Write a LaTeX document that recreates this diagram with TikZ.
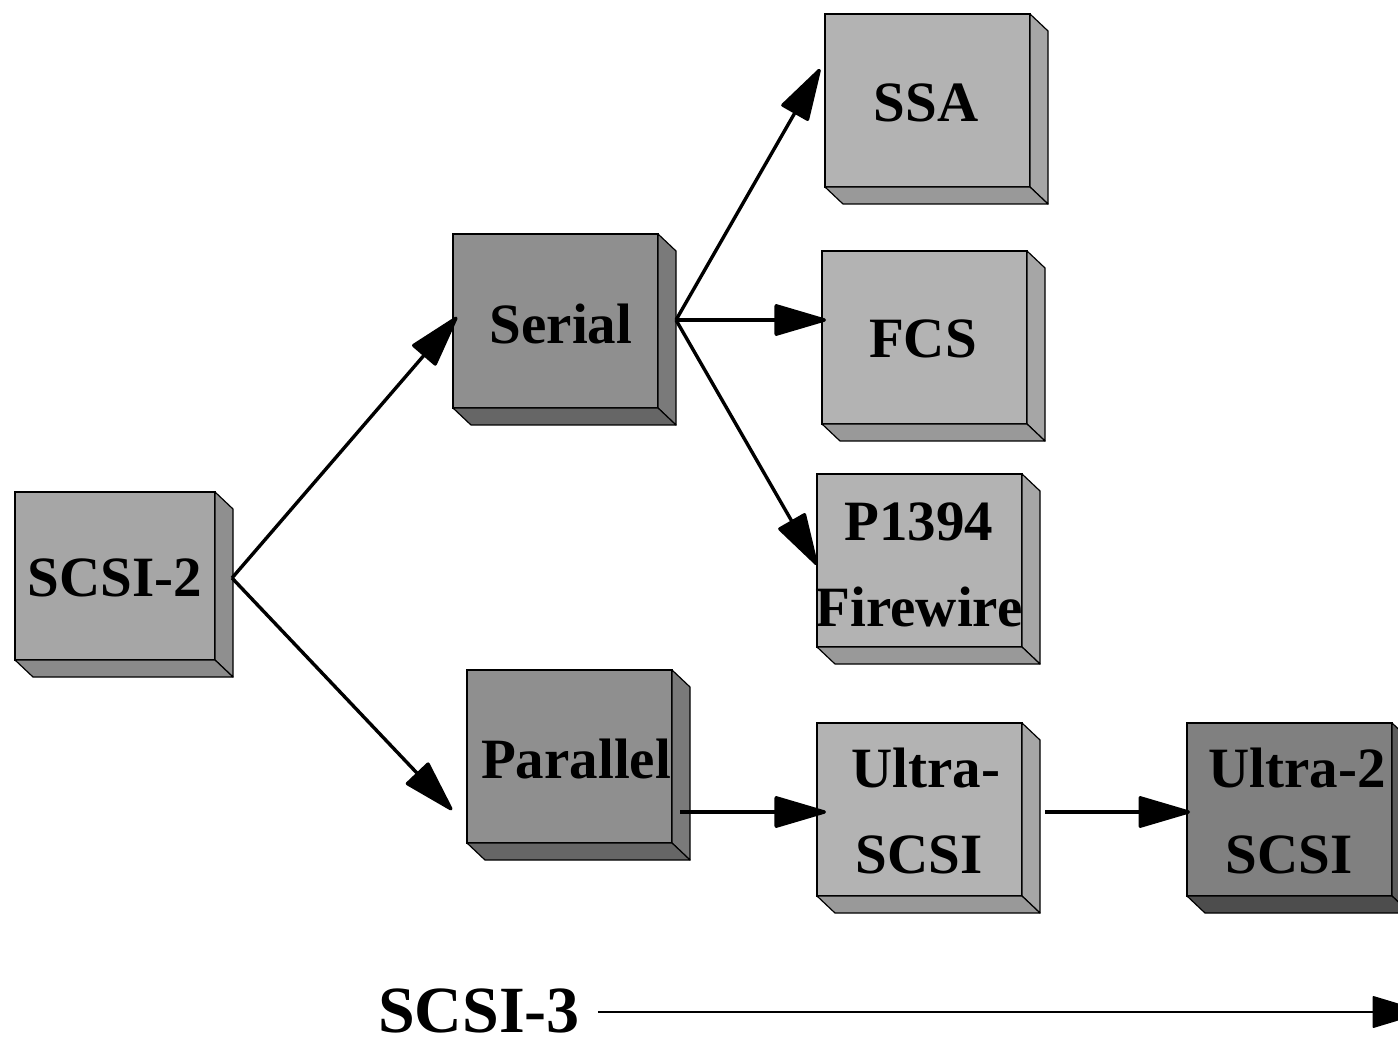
\documentclass[tikz,border=0pt]{standalone}
\usepackage{fontspec}
\setmainfont{Liberation Serif}
\usetikzlibrary{arrows.meta,calc}

\definecolor{lightF}{HTML}{B3B3B3}
\definecolor{lightS}{HTML}{A6A6A6}
\definecolor{lightB}{HTML}{999999}
\definecolor{baseF}{HTML}{A6A6A6}
\definecolor{baseS}{HTML}{8F8F8F}
\definecolor{baseB}{HTML}{8A8A8A}
\definecolor{midF}{HTML}{8F8F8F}
\definecolor{midS}{HTML}{7A7A7A}
\definecolor{midB}{HTML}{666666}
\definecolor{darkF}{HTML}{808080}
\definecolor{darkS}{HTML}{5C5C5C}
\definecolor{darkB}{HTML}{4D4D4D}

\tikzset{
  face/.style={draw=black, line width=1.2pt, inner sep=0pt, outer sep=0pt, anchor=north west},
  rim/.style={draw=black, line width=1.2pt, line join=round},
  lbl/.style={font=\fontsize{57}{68}\selectfont\bfseries, anchor=base, inner sep=0pt, outer sep=0pt},
  biglbl/.style={font=\fontsize{66}{78}\selectfont\bfseries, anchor=base, inner sep=0pt, outer sep=0pt},
  link/.style={line width=3.4pt, -{Triangle[length=56pt,width=32pt,round]}},
  timeline/.style={line width=2pt, -{Triangle[length=54pt,width=32pt,round]}},
}

% solid block: front face node plus right and bottom faces
% #1 name, #2 x, #3 y, #4 width, #5 height, #6 front, #7 side, #8 bottom
\newcommand\solidblock[8]{%
  \node[face, fill=#6, minimum width=#4pt, minimum height=#5pt] (#1) at (#2,#3) {};
  \filldraw[rim, fill=#7] (#1.north east) -- ++(18,17) -- ($(#1.south east)+(18,17)$) -- (#1.south east) -- cycle;
  \filldraw[rim, fill=#8] (#1.south west) -- (#1.south east) -- ++(18,17) -- ($(#1.south west)+(18,17)$) -- cycle;
}

\begin{document}
\begin{tikzpicture}[x=1pt,y=-1pt]
\useasboundingbox (0,0) rectangle (1398,1040);
\clip (0,0) rectangle (1398,1040);
\fill[white] (0,0) rectangle (1398,1040);

% blocks
\solidblock{scsi2}{15}{492}{200}{168}{baseF}{baseS}{baseB}
\solidblock{serial}{453}{234}{205}{174}{midF}{midS}{midB}
\solidblock{parallel}{467}{670}{205}{173}{midF}{midS}{midB}
\solidblock{ssa}{825}{14}{205}{173}{lightF}{lightS}{lightB}
\solidblock{fcs}{822}{251}{205}{173}{lightF}{lightS}{lightB}
\solidblock{fire}{817}{474}{205}{173}{lightF}{lightS}{lightB}
\solidblock{ultra}{817}{723}{205}{173}{lightF}{lightS}{lightB}
\solidblock{ultratwo}{1187}{723}{205}{173}{darkF}{darkS}{darkB}

% labels
\node[lbl] (scsi2T) at (115,596) {SCSI-2};
\node[lbl] (serialT) at (561,344) {Serial};
\node[lbl] (parallelT) at (576,778) {Parallel};
\node[lbl] (ssaT) at (926,122) {SSA};
\node[lbl] (fcsT) at (923,358) {FCS};
\node[lbl] (fireT1) at (919,540) {P1394};
\node[lbl] (fireT2) at (919,626) {Firewire};
\node[lbl] (ultraT1) at (926,787) {Ultra-};
\node[lbl] (ultraT2) at (919,873) {SCSI};
\node[lbl] (ultratwoT1) at (1297,787) {Ultra-2};
\node[lbl] (ultratwoT2) at (1289,873) {SCSI};
\node[biglbl] (scsi3) at (479,1032) {SCSI-3};

% branch points
\coordinate (scsi2out) at ($(scsi2.east)+(17,2)$);
\coordinate (serialout) at ($(serial.east)+(18,-1)$);
\coordinate (parallelout) at ($(parallel.east)+(8,55.5)$);
\coordinate (ultraout) at ($(ultra.east)+(23,2.5)$);

% connectors
\draw[link] (scsi2out) -- ($(serial.west)+(4,-4)$);
\draw[link] (scsi2out) -- ($(parallel.west)+(-15,53.5)$);
\draw[link] (serialout) -- ($(ssa.west)+(-5,-31.5)$);
\draw[link] (serialout) -- ($(fcs.west)+(4,-17.5)$);
\draw[link] (serialout) -- ($(fire.west)+(0,4.5)$);
\draw[link] (parallelout) -- ($(ultra.west)+(9,2.5)$);
\draw[link] (ultraout) -- ($(ultratwo.west)+(3,2.5)$);

% time axis
\coordinate (axisstart) at ($(scsi3.base east)+(18,-20)$);
\coordinate (axisend) at (1424,1012);
\draw[timeline] (axisstart) -- (axisend);
\end{tikzpicture}
\end{document}
